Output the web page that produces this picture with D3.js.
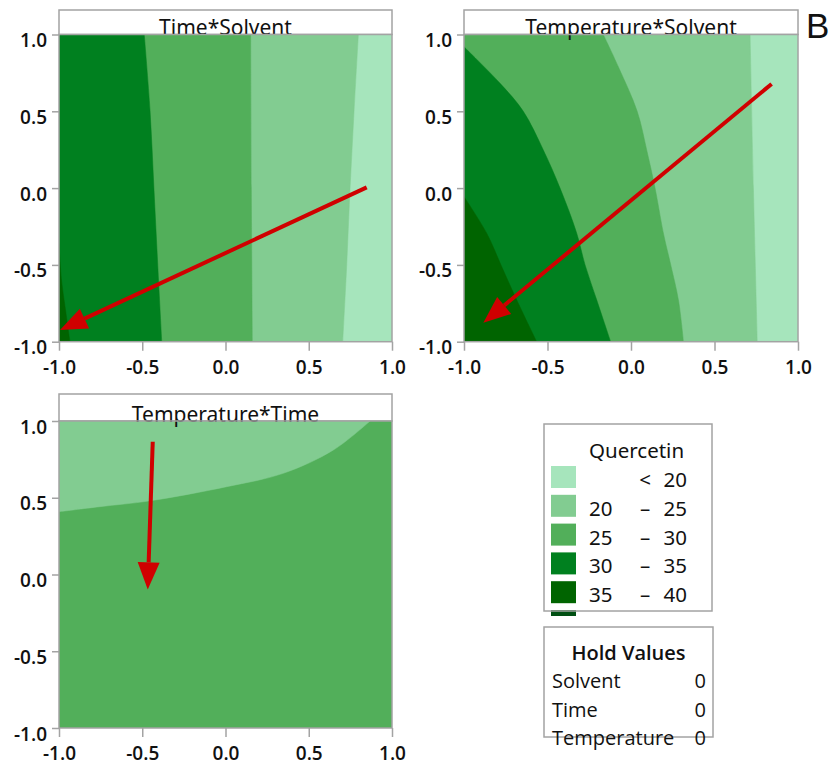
<!DOCTYPE html>
<html>
<head>
<meta charset="utf-8">
<script src="https://cdn.jsdelivr.net/npm/d3@7"></script>
<style>
  body { margin: 0; background: #fff; }
  svg { display: block; }
  text { font-family: "Noto Sans", "Open Sans", sans-serif; fill: #111; }
</style>
</head>
<body>
<script>
// ---- data ----
const tickValues = [-1, -0.5, 0, 0.5, 1];
const tickLabels = ["-1.0", "-0.5", "0.0", "0.5", "1.0"];
const panelTitles = ["Time*Solvent", "Temperature*Solvent", "Temperature*Time"];

// Quercetin levels (index 0 = "< 20")
const levelLow = [null, 20, 25, 30, 35];
const levelHigh = [20, 25, 30, 35, 40];
const levelColors = ["#a6e5bc", "#82cc91", "#52af5a", "#00801f", "#006400", "#004f12"];

// contour boundaries: level = fill on the high side, pts = boundary line, close = corners to close it
const timeSolventBounds = [
  { level: 1, pts: [[0.798, 1], [0.772, 0.5], [0.748, 0], [0.728, -0.5], [0.704, -1]], close: [[-1, -1], [-1, 1]] },
  { level: 2, pts: [[0.151, 1], [0.155, 0], [0.161, -1]], close: [[-1, -1], [-1, 1]] },
  { level: 3, pts: [[-0.488, 1], [-0.453, 0.5], [-0.43, 0], [-0.407, -0.5], [-0.383, -1]], close: [[-1, -1], [-1, 1]] },
  { level: 4, pts: [[-1, -0.36], [-0.985, -0.6], [-0.96, -0.8], [-0.934, -1]], close: [[-1, -1]] }
];
const tempSolventBounds = [
  { level: 1, pts: [[0.713, 1], [0.733, 0], [0.756, -1]], close: [[-1, -1], [-1, 1]] },
  { level: 2, pts: [[-0.166, 1], [-0.076, 0.79], [0.037, 0.5], [0.094, 0.248], [0.144, 0], [0.194, -0.294], [0.238, -0.5], [0.284, -0.729], [0.314, -1]], close: [[-1, -1], [-1, 1]] },
  { level: 3, pts: [[-1, 0.92], [-0.784, 0.682], [-0.645, 0.5], [-0.525, 0.248], [-0.425, 0], [-0.325, -0.294], [-0.275, -0.5], [-0.205, -0.729], [-0.122, -1]], close: [[-1, -1]] },
  { level: 4, pts: [[-1, -0.056], [-0.864, -0.294], [-0.774, -0.512], [-0.684, -0.729], [-0.565, -1]], close: [[-1, -1]] }
];
const tempTimeBounds = [
  { level: 1, pts: [[-1, 0.409], [-0.754, 0.442], [-0.453, 0.48], [0.007, 0.572], [0.347, 0.659], [0.648, 0.811], [0.868, 1]], close: [[-1, 1]] }
];
const baseLevels = [0, 0, 2];

// red arrows [start, tip]
const timeSolventArrow = [[0.848, 0.005], [-0.994, -0.924]];
const tempSolventArrow = [[0.842, 0.678], [-0.884, -0.876]];
const tempTimeArrow = [[-0.437, 0.865], [-0.467, -0.097]];

const holdFactors = ["Solvent", "Time", "Temperature"];
const holdValues = [0, 0, 0];

// ---- layout ----
const W = 839, H = 768;
const frameColor = "#a3a3a3";
const panels = [
  { x0: 59, x1: 392, y0: 34.5, y1: 341.7, head: 10, title: panelTitles[0], bounds: timeSolventBounds, base: baseLevels[0], arrow: timeSolventArrow },
  { x0: 464, x1: 798, y0: 34.5, y1: 341.7, head: 10, title: panelTitles[1], bounds: tempSolventBounds, base: baseLevels[1], arrow: tempSolventArrow },
  { x0: 59, x1: 392, y0: 421, y1: 728, head: 394, title: panelTitles[2], bounds: tempTimeBounds, base: baseLevels[2], arrow: tempTimeArrow }
];

const svg = d3.select("body").append("svg")
  .attr("width", W)
  .attr("height", H);

panels.forEach(function(p, pi) {
  const x = d3.scaleLinear().domain([-1, 1]).range([p.x0, p.x1]);
  const y = d3.scaleLinear().domain([-1, 1]).range([p.y1, p.y0]);
  const g = svg.append("g");

  // header box
  g.append("rect")
    .attr("x", p.x0).attr("y", p.head)
    .attr("width", p.x1 - p.x0).attr("height", p.y0 - p.head)
    .attr("fill", "#fff").attr("stroke", frameColor).attr("stroke-width", 1.5);

  // contour fills
  const clipId = "clip" + pi;
  svg.append("clipPath").attr("id", clipId)
    .append("rect")
    .attr("x", p.x0).attr("y", p.y0)
    .attr("width", p.x1 - p.x0).attr("height", p.y1 - p.y0);

  const area = g.append("g").attr("clip-path", "url(#" + clipId + ")");
  area.append("rect")
    .attr("x", x(-1)).attr("y", y(1))
    .attr("width", x(1) - x(-1)).attr("height", y(-1) - y(1))
    .attr("fill", levelColors[p.base]);

  // smooth boundary, then straight edges along the plot corners
  const curve = d3.line().x(d => x(d[0])).y(d => y(d[1])).curve(d3.curveCatmullRom.alpha(0.5));
  const band = d => curve(d.pts) + d.close.map(c => "L" + x(c[0]) + "," + y(c[1])).join("") + "Z";
  area.selectAll("path.band")
    .data(p.bounds)
    .enter().append("path")
    .attr("class", "band")
    .attr("d", band)
    .attr("fill", d => levelColors[d.level])
    .attr("stroke", d => levelColors[d.level])
    .attr("stroke-width", 0.5);

  // title (baseline sits on the plot edge, descenders poke through)
  g.append("text")
    .attr("x", (p.x0 + p.x1) / 2).attr("y", p.y0 + 0.5)
    .attr("text-anchor", "middle")
    .style("font-size", "21px")
    .text(p.title);

  // axes
  const yAxis = g.append("g")
    .attr("transform", "translate(" + p.x0 + ",0)")
    .call(d3.axisLeft(y).tickValues(tickValues).tickFormat((d, i) => tickLabels[i]).tickSize(7).tickPadding(5));
  const xAxis = g.append("g")
    .attr("transform", "translate(0," + p.y1 + ")")
    .call(d3.axisBottom(x).tickValues(tickValues).tickFormat((d, i) => tickLabels[i]).tickSize(9).tickPadding(10));
  [xAxis, yAxis].forEach(function(a) {
    a.select(".domain").remove();
    a.selectAll(".tick line").attr("stroke", frameColor).attr("stroke-width", 1.5);
    a.selectAll(".tick text")
      .style("font-size", "19px")
      .style("font-weight", 600)
      .style("font-family", "\"Open Sans\", \"Noto Sans\", sans-serif")
      .attr("fill", "#111");
  });
  yAxis.selectAll(".tick text").attr("dy", "12px");

  // plot frame
  g.append("rect")
    .attr("x", p.x0).attr("y", p.y0)
    .attr("width", p.x1 - p.x0).attr("height", p.y1 - p.y0)
    .attr("fill", "none").attr("stroke", frameColor).attr("stroke-width", 1.5);

  // red arrow
  const sx = x(p.arrow[0][0]), sy = y(p.arrow[0][1]);
  const tx = x(p.arrow[1][0]), ty = y(p.arrow[1][1]);
  const ang = Math.atan2(ty - sy, tx - sx);
  const headLen = 27, headHalf = 11;
  const bx = tx - headLen * Math.cos(ang), by = ty - headLen * Math.sin(ang);
  g.append("line")
    .attr("x1", sx).attr("y1", sy).attr("x2", bx).attr("y2", by)
    .attr("stroke", "#d00000").attr("stroke-width", 4);
  g.append("path")
    .attr("d", "M" + tx + "," + ty +
      "L" + (bx + headHalf * Math.sin(ang)) + "," + (by - headHalf * Math.cos(ang)) +
      "L" + (bx - headHalf * Math.sin(ang)) + "," + (by + headHalf * Math.cos(ang)) + "Z")
    .attr("fill", "#d00000");
});

// panel letter
svg.append("text")
  .attr("x", 806).attr("y", 38)
  .style("font-family", "\"Liberation Sans\", Arial, sans-serif")
  .style("font-size", "35px")
  .text("B");

// ---- legend ----
const leg = svg.append("g");
leg.append("text").attr("x", 589).attr("y", 458).style("font-size", "20.5px").text("Quercetin");
const rowY = d => 487 + d * 28.8;
levelHigh.forEach(function(hi, i) {
  leg.append("rect")
    .attr("x", 551).attr("y", rowY(i) - 21)
    .attr("width", 25).attr("height", 22)
    .attr("fill", levelColors[i]);
  if (levelLow[i] !== null) {
    leg.append("text").attr("x", 589).attr("y", rowY(i)).style("font-size", "20.5px").text(levelLow[i]);
    leg.append("text").attr("x", 645).attr("y", rowY(i)).attr("text-anchor", "middle").style("font-size", "20.5px").text("–");
  } else {
    leg.append("text").attr("x", 645).attr("y", rowY(i)).attr("text-anchor", "middle").style("font-size", "20.5px").text("<");
  }
  leg.append("text").attr("x", 687).attr("y", rowY(i)).attr("text-anchor", "end").style("font-size", "20.5px").text(hi);
});
// next swatch, cut off by the legend box
leg.append("rect")
  .attr("x", 551).attr("y", rowY(5) - 21)
  .attr("width", 25).attr("height", 6)
  .attr("fill", levelColors[5]);
leg.append("rect")
  .attr("x", 544).attr("y", 424).attr("width", 168).attr("height", 187)
  .attr("fill", "none").attr("stroke", frameColor).attr("stroke-width", 1.5);

// ---- hold values ----
const hold = svg.append("g");
hold.append("rect")
  .attr("x", 544).attr("y", 627).attr("width", 169).attr("height", 110)
  .attr("fill", "none").attr("stroke", frameColor).attr("stroke-width", 1.5);
hold.append("text").attr("x", 628.5).attr("y", 660).attr("text-anchor", "middle")
  .style("font-family", "\"Open Sans\", sans-serif").style("font-size", "20px").style("font-weight", 600).text("Hold Values");
holdFactors.forEach(function(f, i) {
  const yy = 688 + i * 28.7;
  hold.append("text").attr("x", 552).attr("y", yy)
    .style("font-family", "\"Open Sans\", sans-serif").style("font-size", "20px").style("font-weight", 500).text(f);
  hold.append("text").attr("x", 706).attr("y", yy).attr("text-anchor", "end")
    .style("font-family", "\"Open Sans\", sans-serif").style("font-size", "20px").style("font-weight", 500).text(holdValues[i]);
});
</script>
</body>
</html>
